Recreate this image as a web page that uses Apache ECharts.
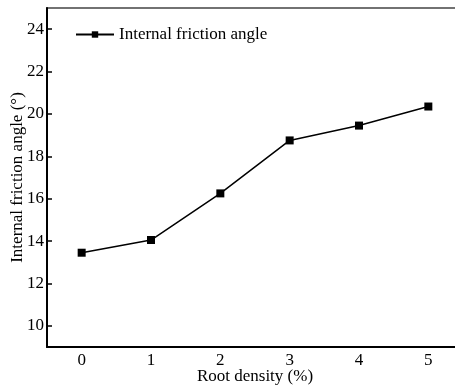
<!DOCTYPE html>
<html>
<head>
<meta charset="utf-8">
<script src="https://cdn.jsdelivr.net/npm/echarts@6/dist/echarts.min.js"></script>
<style>
  html, body { margin: 0; padding: 0; background: #fff; }
  #main { width: 455px; height: 388px; }
</style>
</head>
<body>
<div id="main"></div>
<script>
window.addEventListener('load', function () {
  // data
  const rootDensity = ['0', '1', '2', '3', '4', '5'];
  const frictionAngle = [13.45, 14.05, 16.25, 18.75, 19.45, 20.35];
  const yTicks = [10, 12, 14, 16, 18, 20, 22, 24];

  const font = '"Liberation Serif", "Times New Roman", serif';
  const chart = echarts.init(document.getElementById('main'));

  chart.setOption({
    animation: false,
    textStyle: { fontFamily: font, color: '#000' },
    grid: {
      left: 47, right: -8, top: 8, bottom: 41,
      outerBoundsMode: 'none',
      containLabel: false,
      show: true, borderColor: '#444', borderWidth: 1.5
    },
    legend: {
      left: 70, top: 21,
      itemWidth: 38, itemHeight: 8, itemGap: 6,
      textStyle: { fontFamily: font, fontSize: 17, color: '#000' },
      data: ['Internal friction angle']
    },
    xAxis: {
      type: 'category',
      data: rootDensity,
      boundaryGap: true,
      name: 'Root density (%)',
      nameLocation: 'middle',
      nameGap: 21,
      nameMoveOverlap: false,
      nameTextStyle: { fontFamily: font, fontSize: 17, color: '#000' },
      axisLine: { lineStyle: { color: '#000', width: 2 } },
      axisTick: { alignWithLabel: true, inside: true, length: 5, lineStyle: { color: '#000', width: 1.5 } },
      axisLabel: { fontFamily: font, fontSize: 17, color: '#000', margin: 5 },
      splitLine: { show: false }
    },
    yAxis: {
      type: 'value',
      min: 9, max: 25,
      name: 'Internal friction angle (°)',
      nameLocation: 'middle',
      nameGap: 21,
      nameMoveOverlap: false,
      nameTextStyle: { fontFamily: font, fontSize: 17, color: '#000' },
      axisLine: { show: true, lineStyle: { color: '#000', width: 2 } },
      axisTick: { show: true, inside: true, length: 5, customValues: yTicks, lineStyle: { color: '#000', width: 1.5 } },
      axisLabel: { fontFamily: font, fontSize: 17, color: '#000', margin: 3, customValues: yTicks },
      splitLine: { show: false }
    },
    series: [
      {
        name: 'Internal friction angle',
        type: 'line',
        data: frictionAngle,
        symbol: 'rect',
        symbolSize: 8,
        itemStyle: { color: '#000' },
        lineStyle: { color: '#000', width: 1.5 }
      }
    ]
  });
});
</script>
</body>
</html>
